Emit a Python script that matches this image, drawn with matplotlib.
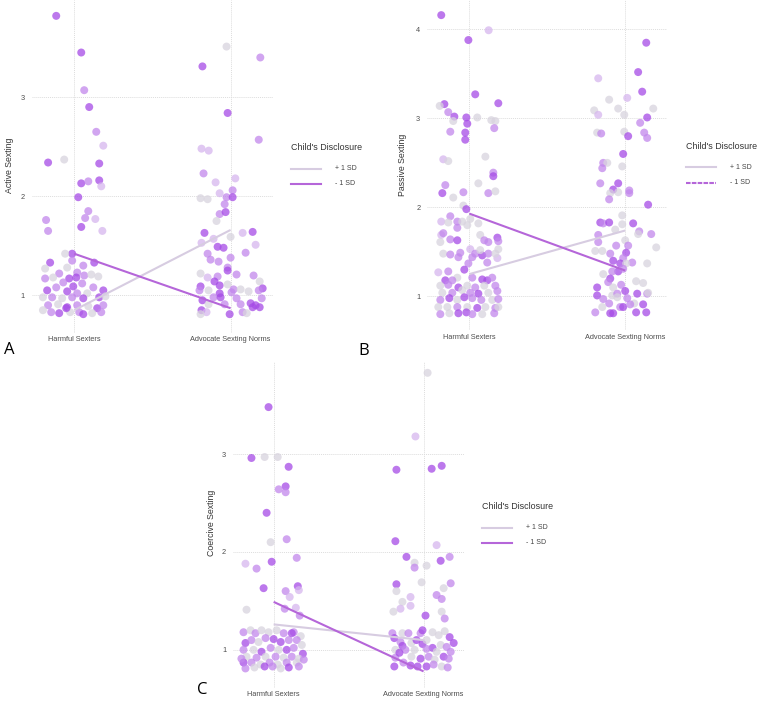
import matplotlib
matplotlib.use('Agg')
import numpy as np
import matplotlib.pyplot as plt
from matplotlib.lines import Line2D
from matplotlib.transforms import ScaledTranslation

# categorias e legenda
categorias = ['Harmful Sexters', 'Advocate Sexting Norms']
legenda = ['+ 1 SD', '- 1 SD']

# pontos: (deslocamento jitter, valor, tom 0=cinza .. 3=roxo escuro)
a_harmful = [
    (-0.115, 3.82, 3), (0.045, 3.45, 3), (0.064, 3.07, 2), (0.096, 2.90, 3), (0.141, 2.65, 2),
    (0.186, 2.51, 1), (-0.167, 2.34, 3), (-0.064, 2.37, 0), (0.16, 2.33, 3), (0.045, 2.13, 3),
    (0.09, 2.15, 2), (0.16, 2.16, 3), (0.173, 2.10, 1), (0.026, 1.99, 3), (0.09, 1.85, 2),
    (0.07, 1.78, 2), (0.135, 1.77, 1), (-0.18, 1.76, 2), (-0.167, 1.65, 2), (0.045, 1.69, 3),
    (0.18, 1.65, 1), (-0.154, 1.33, 3), (0.128, 1.33, 3), (-0.013, 1.42, 3), (-0.058, 1.42, 0),
    (-0.013, 1.35, 2), (0.058, 1.30, 2), (-0.045, 1.28, 0), (-0.096, 1.22, 2), (0.019, 1.23, 2),
    (-0.186, 1.17, 2), (-0.135, 1.18, 0), (-0.032, 1.17, 3), (0.013, 1.18, 3), (0.064, 1.20, 2),
    (0.109, 1.21, 0), (0.154, 1.19, 0), (-0.07, 1.13, 2), (-0.006, 1.09, 3), (0.051, 1.12, 2),
    (0.122, 1.08, 2), (0.186, 1.05, 3), (-0.173, 1.05, 3), (-0.115, 1.08, 2), (-0.045, 1.04, 3),
    (0.019, 1.02, 2), (0.083, 1.02, 0), (-0.2, 0.98, 0), (-0.141, 0.98, 2), (-0.077, 0.97, 0),
    (-0.013, 0.98, 2), (0.058, 0.97, 3), (0.16, 0.98, 3), (0.2, 0.99, 0), (-0.167, 0.90, 2),
    (-0.103, 0.91, 0), (-0.045, 0.88, 3), (0.019, 0.90, 2), (0.09, 0.89, 0), (0.147, 0.87, 3),
    (0.186, 0.90, 2), (-0.2, 0.85, 0), (-0.147, 0.83, 2), (-0.096, 0.82, 3), (-0.026, 0.83, 0),
    (0.032, 0.83, 2), (0.058, 0.81, 3), (0.115, 0.82, 0), (0.173, 0.83, 2), (-0.051, 0.87, 3),
    (-0.186, 1.27, 0),
]
a_advocate = [
    (-0.026, 3.51, 0), (-0.18, 3.31, 3), (0.19, 3.40, 2), (-0.019, 2.84, 3), (0.18, 2.57, 2),
    (-0.186, 2.48, 1), (-0.14, 2.46, 1), (-0.173, 2.23, 2), (-0.096, 2.14, 1), (0.03, 2.18, 1),
    (-0.192, 1.98, 0), (-0.147, 1.97, 0), (-0.07, 2.03, 1), (0.013, 2.06, 2), (-0.026, 1.99, 2),
    (0.013, 1.99, 3), (-0.038, 1.92, 2), (-0.07, 1.82, 2), (-0.032, 1.84, 3), (-0.09, 1.75, 0),
    (-0.167, 1.63, 3), (0.0, 1.59, 0), (0.077, 1.63, 1), (0.141, 1.64, 3), (-0.109, 1.57, 1),
    (-0.186, 1.53, 1), (0.16, 1.51, 1), (-0.083, 1.49, 3), (-0.045, 1.48, 3), (-0.147, 1.42, 2),
    (0.096, 1.43, 2), (-0.128, 1.36, 2), (0.0, 1.38, 2), (-0.077, 1.34, 2), (-0.019, 1.28, 2),
    (-0.019, 1.25, 3), (-0.192, 1.22, 0), (-0.147, 1.18, 1), (-0.083, 1.19, 2), (0.038, 1.21, 2),
    (0.147, 1.20, 2), (0.186, 1.14, 0), (-0.192, 1.09, 3), (-0.103, 1.14, 3), (-0.07, 1.10, 3),
    (-0.019, 1.11, 0), (0.019, 1.06, 2), (0.064, 1.06, 0), (0.205, 1.07, 3), (-0.199, 1.05, 2),
    (-0.141, 1.05, 0), (-0.07, 1.02, 3), (0.006, 1.03, 2), (0.115, 1.04, 0), (0.18, 1.05, 2),
    (-0.18, 0.95, 3), (-0.109, 0.98, 2), (-0.064, 0.98, 3), (0.038, 0.97, 2), (0.199, 0.97, 2),
    (-0.141, 0.91, 0), (-0.038, 0.91, 2), (0.064, 0.91, 2), (0.128, 0.92, 3), (0.16, 0.90, 3),
    (-0.186, 0.85, 3), (-0.154, 0.83, 1), (-0.006, 0.81, 3), (0.077, 0.83, 2), (0.103, 0.82, 0),
    (0.141, 0.88, 3), (0.186, 0.88, 3), (-0.192, 0.81, 0),
]
a_mais = [0.85, 1.66]
a_menos = [1.42, 0.87]

b_harmful = [
    (-0.18, 4.16, 3), (0.124, 3.99, 1), (-0.006, 3.88, 3), (0.038, 3.27, 3), (-0.16, 3.16, 3),
    (-0.19, 3.14, 0), (0.186, 3.17, 3), (-0.135, 3.07, 2), (-0.096, 3.02, 3), (-0.103, 2.97, 0),
    (-0.019, 3.01, 3), (-0.013, 2.94, 3), (0.051, 3.01, 0), (0.141, 2.98, 0), (0.167, 2.97, 0),
    (0.16, 2.89, 2), (-0.122, 2.85, 2), (-0.026, 2.84, 3), (-0.026, 2.76, 3), (-0.167, 2.54, 1),
    (-0.135, 2.52, 0), (0.103, 2.57, 0), (0.058, 2.27, 0), (0.154, 2.39, 2), (0.154, 2.35, 3),
    (-0.154, 2.25, 2), (-0.173, 2.16, 3), (-0.038, 2.17, 2), (-0.103, 2.11, 0), (0.122, 2.16, 2),
    (0.167, 2.18, 0), (-0.038, 2.02, 0), (-0.019, 1.98, 3), (-0.122, 1.90, 2), (-0.18, 1.84, 1),
    (-0.135, 1.83, 0), (-0.077, 1.84, 2), (-0.045, 1.84, 0), (0.006, 1.87, 0), (0.058, 1.82, 0),
    (-0.077, 1.77, 2), (-0.013, 1.80, 0), (-0.18, 1.69, 1), (-0.122, 1.64, 2), (-0.077, 1.63, 3),
    (-0.186, 1.61, 0), (0.07, 1.69, 0), (0.096, 1.63, 2), (0.122, 1.61, 2), (0.18, 1.66, 3),
    (0.186, 1.62, 2), (-0.167, 1.48, 0), (-0.122, 1.47, 2), (-0.058, 1.49, 2), (-0.07, 1.44, 2),
    (0.006, 1.53, 1), (0.038, 1.48, 2), (0.083, 1.46, 3), (0.07, 1.52, 0), (0.122, 1.48, 2),
    (0.186, 1.53, 0), (0.18, 1.43, 1), (0.115, 1.38, 2), (-0.006, 1.37, 2), (-0.199, 1.27, 1),
    (-0.135, 1.28, 2), (-0.032, 1.30, 3), (-0.167, 1.71, 2), (0.019, 1.44, 2), (0.167, 1.48, 0),
    (-0.077, 1.21, 0), (-0.154, 1.18, 3), (-0.109, 1.18, 2), (0.019, 1.21, 2), (0.083, 1.19, 3),
    (0.115, 1.18, 3), (0.147, 1.21, 2), (-0.186, 1.12, 0), (-0.135, 1.13, 2), (-0.07, 1.10, 3),
    (-0.013, 1.12, 0), (0.038, 1.10, 2), (0.096, 1.12, 0), (0.167, 1.12, 2), (-0.173, 1.04, 0),
    (-0.109, 1.04, 2), (-0.045, 1.07, 0), (0.006, 1.04, 2), (0.058, 1.03, 3), (0.122, 1.04, 0),
    (0.18, 1.06, 2), (-0.186, 0.96, 2), (-0.128, 0.98, 3), (-0.077, 0.96, 0), (-0.032, 0.99, 3),
    (0.019, 0.98, 2), (0.077, 0.96, 2), (0.147, 0.96, 0), (0.186, 0.97, 2), (-0.199, 0.88, 0),
    (-0.141, 0.88, 0), (-0.077, 0.88, 2), (-0.013, 0.88, 0), (0.051, 0.87, 3), (0.103, 0.88, 0),
    (0.167, 0.87, 2), (-0.186, 0.80, 2), (-0.128, 0.81, 0), (-0.07, 0.81, 3), (-0.019, 0.82, 3),
    (0.019, 0.80, 2), (0.083, 0.80, 0), (0.16, 0.81, 2), (0.186, 0.88, 0),
]
b_advocate = [
    (0.135, 3.85, 3), (0.083, 3.52, 3), (0.109, 3.30, 3), (-0.173, 3.45, 1), (-0.103, 3.21, 0),
    (0.013, 3.23, 1), (-0.199, 3.09, 0), (-0.173, 3.04, 1), (-0.045, 3.11, 0), (-0.006, 3.04, 0),
    (0.18, 3.11, 0), (0.141, 3.01, 3), (0.096, 2.95, 2), (-0.18, 2.84, 0), (-0.154, 2.83, 2),
    (-0.006, 2.85, 0), (0.019, 2.80, 3), (0.122, 2.84, 2), (0.141, 2.78, 2), (-0.013, 2.60, 3),
    (-0.141, 2.50, 2), (-0.115, 2.50, 0), (-0.147, 2.44, 2), (-0.019, 2.46, 0), (-0.16, 2.27, 2),
    (-0.045, 2.27, 3), (-0.077, 2.20, 3), (-0.096, 2.16, 0), (-0.103, 2.09, 2), (-0.045, 2.17, 0),
    (0.026, 2.19, 2), (0.026, 2.16, 2), (0.147, 2.03, 3), (-0.019, 1.91, 0), (-0.16, 1.83, 3),
    (-0.141, 1.82, 2), (-0.103, 1.83, 3), (-0.019, 1.81, 0), (0.051, 1.82, 3), (-0.064, 1.75, 0),
    (0.09, 1.73, 2), (0.083, 1.70, 0), (0.167, 1.70, 2), (-0.173, 1.69, 2), (-0.173, 1.61, 2),
    (0.0, 1.63, 0), (-0.058, 1.57, 2), (0.019, 1.57, 2), (0.199, 1.55, 0), (-0.192, 1.51, 0),
    (-0.147, 1.51, 0), (-0.096, 1.48, 2), (0.006, 1.49, 3), (-0.013, 1.43, 2), (-0.077, 1.40, 3),
    (-0.032, 1.37, 3), (0.045, 1.38, 2), (0.141, 1.37, 0), (0.006, 1.37, 0), (-0.045, 1.28, 3),
    (-0.083, 1.28, 2), (-0.013, 1.31, 2), (-0.141, 1.25, 0), (-0.096, 1.20, 3), (-0.109, 1.16, 2),
    (-0.18, 1.10, 3), (-0.077, 1.10, 0), (-0.026, 1.13, 2), (0.07, 1.17, 0), (0.115, 1.15, 0),
    (-0.18, 1.01, 3), (-0.141, 0.97, 2), (-0.083, 1.01, 0), (-0.051, 1.03, 2), (0.0, 1.06, 3),
    (0.077, 1.03, 3), (0.141, 1.03, 2), (0.147, 1.04, 0), (-0.103, 0.92, 2), (-0.051, 0.99, 0),
    (0.013, 0.98, 2), (0.058, 0.92, 0), (0.115, 0.91, 3), (-0.192, 0.82, 2), (-0.147, 0.88, 0),
    (-0.096, 0.81, 3), (-0.077, 0.81, 3), (-0.032, 0.88, 2), (-0.013, 0.88, 3), (0.032, 0.91, 2),
    (0.07, 0.82, 3), (0.135, 0.82, 3),
]
b_mais = [1.25, 1.74]
b_menos = [1.93, 1.29]

c_harmful = [
    (-0.034, 3.48, 3), (-0.148, 2.96, 3), (-0.06, 2.97, 0), (0.027, 2.97, 0), (0.1, 2.87, 3),
    (0.08, 2.67, 3), (0.034, 2.64, 2), (0.08, 2.61, 2), (-0.047, 2.40, 3), (-0.02, 2.10, 0),
    (0.087, 2.13, 2), (-0.188, 1.88, 1), (-0.114, 1.83, 2), (-0.013, 1.90, 3), (0.154, 1.94, 2),
    (-0.067, 1.63, 3), (0.08, 1.60, 2), (0.107, 1.54, 1), (0.161, 1.65, 3), (0.168, 1.61, 1),
    (-0.181, 1.41, 0), (0.074, 1.42, 2), (0.148, 1.43, 1), (0.174, 1.35, 2),
    (-0.201, 1.18, 2), (-0.154, 1.20, 0), (-0.121, 1.17, 2), (-0.081, 1.20, 0), (-0.034, 1.18, 0),
    (0.02, 1.20, 0), (0.067, 1.17, 2), (0.134, 1.18, 2), (0.181, 1.14, 0), (-0.188, 1.07, 3),
    (-0.148, 1.10, 2), (-0.101, 1.08, 0), (-0.054, 1.12, 2), (0.0, 1.11, 3), (0.047, 1.08, 3),
    (0.101, 1.10, 2), (0.154, 1.10, 2), (0.188, 1.05, 0), (-0.201, 1.00, 2), (-0.134, 1.00, 0),
    (-0.081, 0.98, 3), (-0.02, 1.02, 2), (0.034, 1.00, 0), (0.087, 1.00, 3), (0.134, 1.02, 2),
    (0.195, 0.96, 3), (-0.181, 0.93, 0), (-0.114, 0.92, 2), (-0.054, 0.93, 0), (0.013, 0.93, 2),
    (0.067, 0.92, 0), (0.121, 0.93, 2), (0.168, 0.91, 0), (-0.201, 0.87, 3), (-0.148, 0.87, 2),
    (-0.087, 0.85, 0), (-0.027, 0.87, 2), (0.027, 0.85, 0), (0.087, 0.87, 2), (0.154, 0.87, 0),
    (-0.188, 0.81, 2), (-0.128, 0.82, 0), (-0.06, 0.83, 3), (-0.007, 0.83, 2), (0.047, 0.81, 0),
    (0.101, 0.82, 3), (0.168, 0.83, 2), (-0.215, 0.91, 2), (0.201, 0.90, 2), (0.121, 1.17, 3),
]
c_advocate = [
    (0.027, 3.83, 0), (-0.054, 3.18, 1), (-0.181, 2.84, 3), (0.054, 2.85, 3), (0.121, 2.88, 3),
    (-0.188, 2.11, 3), (0.087, 2.07, 1), (-0.114, 1.95, 3), (0.174, 1.95, 2), (0.114, 1.91, 3),
    (-0.06, 1.89, 0), (-0.06, 1.84, 2), (0.02, 1.86, 0), (-0.181, 1.67, 3), (0.181, 1.68, 2),
    (-0.181, 1.60, 0), (-0.013, 1.69, 0), (0.134, 1.63, 0), (-0.087, 1.54, 1), (0.087, 1.56, 2),
    (-0.141, 1.49, 0), (0.121, 1.52, 2), (-0.087, 1.45, 1), (-0.154, 1.42, 1), (-0.201, 1.39, 0),
    (0.121, 1.39, 0), (0.013, 1.35, 3), (0.141, 1.32, 2),
    (-0.208, 1.17, 2), (-0.141, 1.17, 0), (-0.101, 1.17, 2), (-0.02, 1.17, 2), (-0.007, 1.20, 3),
    (0.06, 1.18, 0), (0.101, 1.15, 0), (0.141, 1.19, 0), (0.174, 1.13, 3), (-0.195, 1.12, 3),
    (-0.154, 1.08, 2), (-0.141, 1.04, 3), (-0.081, 1.07, 0), (-0.047, 1.10, 3), (-0.007, 1.06, 3),
    (0.02, 1.10, 0), (0.06, 1.02, 3), (0.114, 1.05, 0), (0.154, 1.03, 2), (0.201, 1.07, 3),
    (-0.188, 1.00, 0), (-0.121, 1.00, 2), (-0.06, 1.00, 0), (0.02, 1.01, 2), (0.087, 0.98, 0),
    (0.181, 0.98, 2), (-0.188, 0.92, 2), (-0.161, 0.97, 3), (-0.081, 0.93, 0), (-0.02, 0.91, 3),
    (0.034, 0.93, 2), (0.074, 0.90, 0), (0.134, 0.93, 3), (0.168, 0.91, 2), (-0.195, 0.83, 3),
    (-0.134, 0.87, 2), (-0.087, 0.84, 3), (-0.04, 0.83, 3), (0.02, 0.83, 3), (0.067, 0.85, 2),
    (0.121, 0.83, 0), (0.161, 0.82, 2),
]
c_mais = [1.26, 1.10]
c_menos = [1.49, 0.78]

# Cores
tons = ['#D8D3DE', '#D6B6EE', '#C287EC', '#A64BE6']
cor_mais = '#D7CCE1'
cor_menos = '#B566D9'
cor_grade = '#DDDDDD'
cor_texto = '#4D4D4D'
fonte = 'Liberation Sans'


def desenhar(ax, harmful, advocate, mais, menos, ylabel, yticks, ylim, tracejado=False):
    for i, grupo in enumerate([harmful, advocate]):
        dx = np.array([p[0] for p in grupo])
        yv = np.array([p[1] for p in grupo])
        cores = [tons[p[2]] for p in grupo]
        ax.scatter(i + dx, yv, s=33, c=cores, alpha=0.75, linewidths=0, zorder=2)

    ax.plot([0, 1], mais, color=cor_mais, lw=1.5, zorder=3, solid_capstyle='butt')
    ax.plot([0, 1], menos, color=cor_menos, lw=1.5, zorder=3, solid_capstyle='butt')

    ax.set_xlim(-0.27, 1.27)
    ax.set_ylim(*ylim)
    ax.set_xticks([0, 1])
    ax.set_xticklabels(categorias, fontsize=5.3, color=cor_texto, family=fonte)
    ax.set_yticks(yticks)
    ax.set_yticklabels([str(t) for t in yticks], fontsize=5.3, color=cor_texto, family=fonte)
    ax.tick_params(axis='both', length=0)
    ax.tick_params(axis='x', pad=2.5)
    ax.tick_params(axis='y', pad=5)
    for spine in ax.spines.values():
        spine.set_visible(False)
    ax.grid(True, color=cor_grade, lw=0.7, linestyle=(0, (1, 1)))
    ax.set_axisbelow(True)
    ax.set_ylabel(ylabel, fontsize=6.3, color='#333333', family=fonte)

    # legenda desenhada a mao
    fig = ax.figure
    base = ax.transAxes
    ax.annotate("Child's Disclosure", (1.077, 0.556), xycoords='axes fraction',
                fontsize=6.4, color='#333333', family=fonte, va='center', ha='left',
                annotation_clip=False)
    for k, (rotulo, cor) in enumerate(zip(legenda, [cor_mais, cor_menos])):
        dy = -(15 + 11 * k)
        tr = base + ScaledTranslation(0, dy / 72, fig.dpi_scale_trans)
        estilo = (0, (2.2, 0.6)) if (tracejado and k == 1) else '-'
        ln = Line2D([1.077, 1.077 + 21.6 / 72 / (ax.get_position().width * fig.get_figwidth())],
                    [0.556, 0.556], transform=tr, color=cor, lw=1.5,
                    linestyle=estilo, clip_on=False)
        ax.add_line(ln)
        ax.annotate(rotulo, (1.077, 0.556), xycoords='axes fraction',
                    xytext=(31.5, dy), textcoords='offset points',
                    fontsize=5, color='#444444', family=fonte, va='center', ha='left',
                    annotation_clip=False)


fig = plt.figure(figsize=(7.67, 7.04), dpi=100)
fig.patch.set_facecolor('white')

ax_a = fig.add_axes([0.0417, 0.527, 0.314, 0.473])
ax_b = fig.add_axes([0.557, 0.531, 0.313, 0.469])
ax_c = fig.add_axes([0.304, 0.0227, 0.301, 0.463])

desenhar(ax_a, a_harmful, a_advocate, a_mais, a_menos, 'Active Sexting',
         [1, 2, 3], (0.62, 3.98))
desenhar(ax_b, b_harmful, b_advocate, b_mais, b_menos, 'Passive Sexting',
         [1, 2, 3, 4], (0.62, 4.33), tracejado=True)
desenhar(ax_c, c_harmful, c_advocate, c_mais, c_menos, 'Coercive Sexting',
         [1, 2, 3], (0.61, 3.94))

ax_a.yaxis.set_label_coords(-0.075, 0.505)
ax_b.yaxis.set_label_coords(-0.083, 0.5)
ax_c.yaxis.set_label_coords(-0.074, 0.506)

# letras dos paineis
fig.text(9 / 767, 1 - 350 / 704, 'A', fontsize=12, family='Open Sans', ha='center', va='center')
fig.text(364 / 767, 1 - 351 / 704, 'B', fontsize=12, family='Open Sans', ha='center', va='center')
fig.text(202 / 767, 1 - 690 / 704, 'C', fontsize=12, family='Open Sans', ha='center', va='center')

fig.savefig('out.png', dpi=100, facecolor='white')
